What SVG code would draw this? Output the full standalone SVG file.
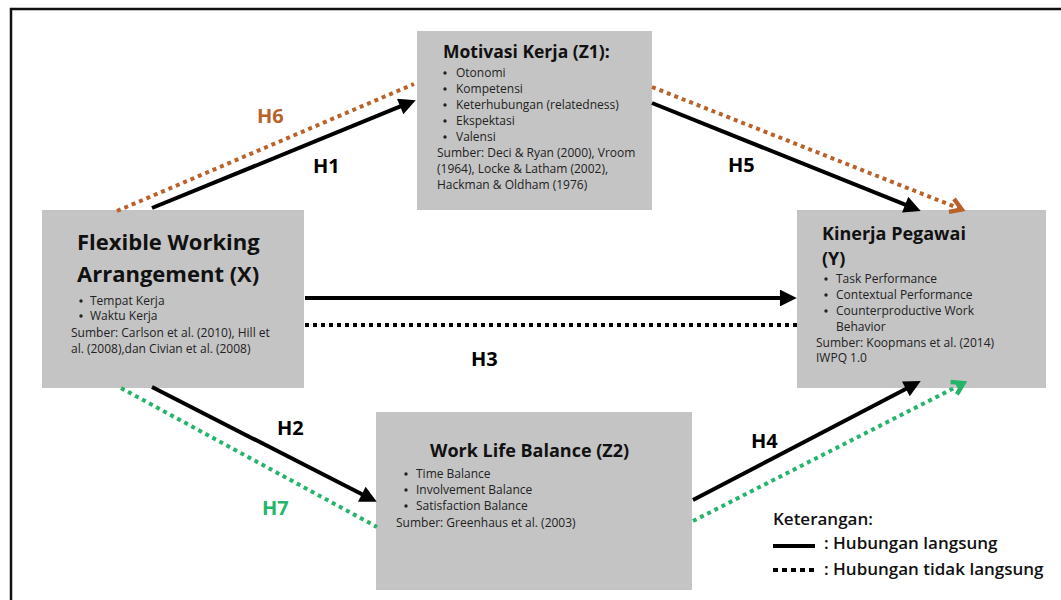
<svg xmlns="http://www.w3.org/2000/svg" width="1061" height="600" viewBox="0 0 1061 600">
<style>
.box{fill:#c4c4c4}
.title{font-family:"Open Sans","Liberation Sans",sans-serif;font-weight:700;fill:#111}
.body{font-family:"Open Sans","Liberation Sans",sans-serif;font-size:12px;fill:#222}
.dot{fill:#222}
.h{font-family:"Open Sans","Liberation Sans",sans-serif;font-weight:700;font-size:20px}
.solid{stroke:#000;stroke-width:4;fill:none}
.dotted{stroke-width:4;stroke-dasharray:4 4;fill:none}
.leg{font-family:"Open Sans","Liberation Sans",sans-serif;font-weight:600;font-size:17px;fill:#111}
</style>
<defs>
<marker id="ah" viewBox="0 0 10 10" refX="6" refY="5" markerWidth="4.8" markerHeight="4.2" markerUnits="strokeWidth" orient="auto">
<path d="M0,0 L10,5 L0,10 z" fill="#000"/>
</marker>
<marker id="chevB" viewBox="0 0 10 10" refX="6" refY="5" markerWidth="5" markerHeight="5" markerUnits="strokeWidth" orient="auto">
<path d="M2.5,1.5 L8,5 L2.5,8.5" fill="none" stroke="#b8622a" stroke-width="2.2" stroke-dasharray="none"/>
</marker>
<marker id="chevG" viewBox="0 0 10 10" refX="6" refY="5" markerWidth="5" markerHeight="5" markerUnits="strokeWidth" orient="auto">
<path d="M2.5,1.5 L8,5 L2.5,8.5" fill="none" stroke="#24b46a" stroke-width="2.2" stroke-dasharray="none"/>
</marker>
</defs>
<rect x="0" y="0" width="1061" height="600" fill="#fff"/>
<rect x="11" y="9" width="1070" height="610" fill="none" stroke="#111" stroke-width="2.5"/>

<g id="z1">
<rect class="box" x="417" y="31" width="235" height="179"/>
<text class="title" x="443" y="58" font-size="17.5">Motivasi Kerja (Z1):</text>
<circle class="dot" cx="445" cy="73" r="1.7"/><text class="body" x="456" y="77">Otonomi</text>
<circle class="dot" cx="445" cy="89" r="1.7"/><text class="body" x="456" y="93">Kompetensi</text>
<circle class="dot" cx="445" cy="105" r="1.7"/><text class="body" x="456" y="109">Keterhubungan (relatedness)</text>
<circle class="dot" cx="445" cy="121" r="1.7"/><text class="body" x="456" y="125">Ekspektasi</text>
<circle class="dot" cx="445" cy="137" r="1.7"/><text class="body" x="456" y="141">Valensi</text>
<text class="body" x="437" y="157">Sumber: Deci &amp; Ryan (2000), Vroom</text>
<text class="body" x="437" y="173">(1964), Locke &amp; Latham (2002),</text>
<text class="body" x="437" y="189">Hackman &amp; Oldham (1976)</text>
</g>

<g id="x">
<rect class="box" x="42" y="210" width="262" height="178"/>
<text class="title" x="77" y="250" font-size="22">Flexible Working</text>
<text class="title" x="77" y="282" font-size="22">Arrangement (X)</text>
<circle class="dot" cx="81" cy="301" r="1.7"/><text class="body" x="90" y="305">Tempat Kerja</text>
<circle class="dot" cx="81" cy="316" r="1.7"/><text class="body" x="90" y="320">Waktu Kerja</text>
<text class="body" x="71" y="337">Sumber: Carlson et al. (2010), Hill et</text>
<text class="body" x="71" y="353">al. (2008),dan Civian et al. (2008)</text>
</g>

<g id="y">
<rect class="box" x="797" y="210" width="249" height="178"/>
<text class="title" x="822" y="240" font-size="18">Kinerja Pegawai</text>
<text class="title" x="822" y="265" font-size="18">(Y)</text>
<circle class="dot" cx="826" cy="279" r="1.7"/><text class="body" x="836" y="283">Task Performance</text>
<circle class="dot" cx="826" cy="295" r="1.7"/><text class="body" x="836" y="299">Contextual Performance</text>
<circle class="dot" cx="826" cy="311" r="1.7"/><text class="body" x="836" y="315">Counterproductive Work</text>
<text class="body" x="836" y="331">Behavior</text>
<text class="body" x="816" y="347">Sumber: Koopmans et al. (2014)</text>
<text class="body" x="816" y="362">IWPQ 1.0</text>
</g>

<g id="z2">
<rect class="box" x="376" y="412" width="316" height="178"/>
<text class="title" x="430" y="457" font-size="18">Work Life Balance (Z2)</text>
<circle class="dot" cx="406" cy="474" r="1.7"/><text class="body" x="416" y="478">Time Balance</text>
<circle class="dot" cx="406" cy="490" r="1.7"/><text class="body" x="416" y="494">Involvement Balance</text>
<circle class="dot" cx="406" cy="506" r="1.7"/><text class="body" x="416" y="510">Satisfaction Balance</text>
<text class="body" x="396" y="527">Sumber: Greenhaus et al. (2003)</text>
</g>

<g id="connectors">
<line class="dotted" stroke="#b8622a" x1="117" y1="211" x2="414" y2="84"/>
<line class="dotted" stroke="#b8622a" x1="652" y1="87" x2="958" y2="208" marker-end="url(#chevB)"/>
<line class="dotted" stroke="#24b46a" x1="121" y1="388" x2="377" y2="527"/>
<line class="dotted" stroke="#24b46a" x1="693" y1="521" x2="960" y2="385" marker-end="url(#chevG)"/>
<line class="dotted" stroke="#000" x1="305" y1="325" x2="797" y2="325"/>
<line class="solid" x1="152" y1="208" x2="409.5" y2="102.7" marker-end="url(#ah)"/>
<line class="solid" x1="652" y1="103" x2="914.5" y2="208.4" marker-end="url(#ah)"/>
<line class="solid" x1="305" y1="298" x2="790" y2="298" marker-end="url(#ah)"/>
<line class="solid" x1="152" y1="387" x2="370.8" y2="498.8" marker-end="url(#ah)"/>
<line class="solid" x1="693" y1="500" x2="914.8" y2="384.2" marker-end="url(#ah)"/>
<text class="h" x="257" y="123" fill="#b8622a">H6</text>
<text class="h" x="313" y="173" fill="#000">H1</text>
<text class="h" x="728" y="172" fill="#000">H5</text>
<text class="h" x="471" y="366" fill="#000">H3</text>
<text class="h" x="277" y="435" fill="#000">H2</text>
<text class="h" x="262" y="515" fill="#24b46a">H7</text>
<text class="h" x="751" y="448" fill="#000">H4</text>
</g>

<g id="legend">
<text class="leg" x="773" y="525" font-weight="700">Keterangan:</text>
<line x1="773" y1="546" x2="815" y2="546" stroke="#000" stroke-width="4"/>
<text class="leg" x="824" y="549">: Hubungan langsung</text>
<line x1="773" y1="570" x2="816" y2="570" stroke="#000" stroke-width="4" stroke-dasharray="5 4"/>
<text class="leg" x="824" y="575">: Hubungan tidak langsung</text>
</g>
</svg>
